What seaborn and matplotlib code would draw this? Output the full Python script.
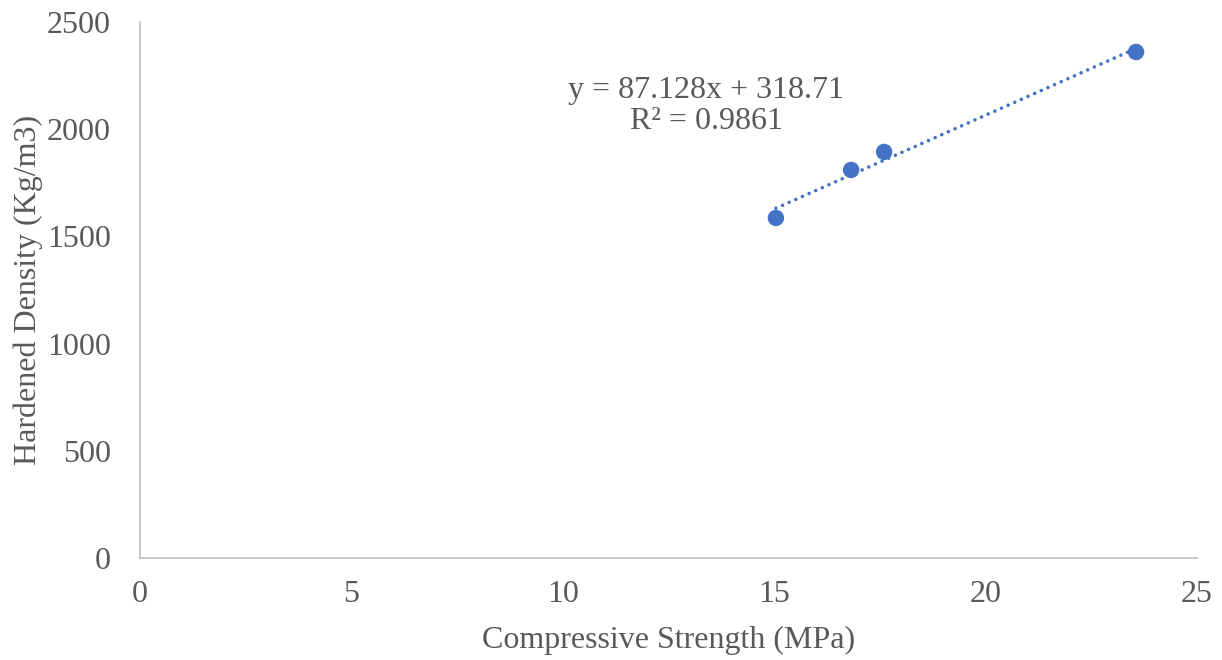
import matplotlib
matplotlib.use("Agg")
import matplotlib.pyplot as plt
import seaborn as sns
import numpy as np
import pandas as pd

strength = [15.04, 16.82, 17.60, 23.56]
density = [1586, 1810, 1894, 2360]
eq_text = "y = 87.128x + 318.71\nR² = 0.9861"
x_ticks = [0, 5, 10, 15, 20, 25]
y_ticks = [0, 500, 1000, 1500, 2000, 2500]

sns.set_theme(style="white")
plt.rcParams['font.family'] = ['Liberation Serif', 'DejaVu Serif']

df = pd.DataFrame({"x": strength, "y": density})

fig = plt.figure(figsize=(12.22, 6.6), dpi=100)
ax = fig.add_axes([0.1146, 0.1545, 0.8649, 0.8122])

blue = "#4472C4"
grey = "#595959"
sns.regplot(data=df, x="x", y="y", ax=ax, ci=None, truncate=True,
            scatter_kws=dict(s=140, color=blue, edgecolor="none", zorder=3, alpha=1),
            line_kws=dict(color=blue, linestyle=(0, (0.01, 2.0)), linewidth=2.6,
                          dash_capstyle="round", zorder=2))

ax.set_xlim(0, 25)
ax.set_ylim(0, 2500)
ax.set_xticks(x_ticks)
ax.set_yticks(y_ticks)
ax.tick_params(axis="both", labelsize=23, colors=grey, length=0)
ax.tick_params(axis="x", pad=16)
ax.tick_params(axis="y", pad=21)
ax.set_xlabel("Compressive Strength (MPa)", fontsize=23, color=grey, labelpad=12)
ax.set_ylabel("Hardened Density (Kg/m3)", fontsize=23, color=grey, labelpad=3)

for s in ["top", "right"]:
    ax.spines[s].set_visible(False)
for s in ["left", "bottom"]:
    ax.spines[s].set_color("#BFBFBF")
    ax.spines[s].set_linewidth(1.2)

ax.text(13.39, 2108, eq_text, ha="center", va="center", fontsize=23,
        color=grey, linespacing=1.12)

fig.savefig("out.png", dpi=100)
